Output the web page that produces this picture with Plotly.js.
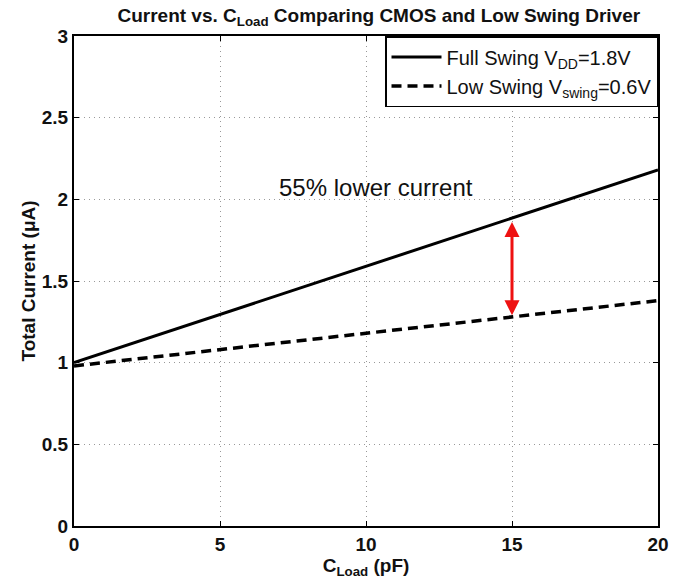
<!DOCTYPE html>
<html>
<head>
<meta charset="utf-8">
<script src="https://cdn.plot.ly/plotly-3.0.1.min.js"></script>
<style>body{margin:0;background:#fff}#chart{width:685px;height:581px}</style>
</head>
<body>
<div id="chart"></div>
<script>
const cLoad = [0, 5, 10, 15, 20];
const fullSwing = [1.00, 1.295, 1.59, 1.885, 2.18];
const lowSwing = [0.98, 1.08, 1.18, 1.28, 1.38];
const arrowX = 15;
const arrowTop = 1.87;
const arrowBottom = 1.29;
const noteX = 10.35;
const noteY = 2.07;

const traces = [
  {x: cLoad, y: fullSwing, mode: 'lines', name: 'Full Swing V<sub>DD</sub>=1.8V',
   line: {color: '#000', width: 3}},
  {x: cLoad, y: lowSwing, mode: 'lines', name: 'Low Swing V<sub>swing</sub>=0.6V',
   line: {color: '#000', width: 3.5, dash: '10px,6px'}}
];

const axisCommon = {
  showline: true, linecolor: '#000', linewidth: 2, mirror: 'ticks',
  ticks: 'inside', ticklen: 5, tickcolor: '#000', tickwidth: 1,
  showgrid: true, gridcolor: '#999', griddash: '1px,4px', gridwidth: 1,
  zeroline: false,
  tickfont: {family: 'Liberation Sans, Arial, sans-serif', size: 19, color: '#111', weight: 'bold'}
};

const layout = {
  width: 685, height: 581,
  margin: {l: 74, r: 27, t: 36, b: 55},
  paper_bgcolor: '#fff', plot_bgcolor: '#fff',
  font: {family: 'Liberation Sans, Arial, sans-serif', color: '#111'},
  title: {text: 'Current vs. C<sub>Load</sub> Comparing CMOS and Low Swing Driver',
    font: {size: 19, weight: 'bold', color: '#111'}, x: 0.553, xanchor: 'center', y: 0.985, yanchor: 'top'},
  xaxis: Object.assign({}, axisCommon, {range: [0, 20], tickvals: [0, 5, 10, 15, 20],
    title: {text: 'C<sub>Load</sub> (pF)', font: {size: 19, weight: 'bold', color: '#111'}, standoff: 4}}),
  yaxis: Object.assign({}, axisCommon, {range: [0, 3], tickvals: [0, 0.5, 1, 1.5, 2, 2.5, 3],
    title: {text: 'Total Current (μA)', font: {size: 19, weight: 'bold', color: '#111'}, standoff: 1}}),
  legend: {x: 1, xanchor: 'right', y: 1, yanchor: 'top', bgcolor: '#fff',
    bordercolor: '#000', borderwidth: 1.5, itemwidth: 50,
    font: {size: 20, color: '#111'}, tracegroupgap: 2},
  showlegend: true,
  annotations: [
    {x: arrowX, y: arrowBottom, ax: arrowX, ay: arrowTop, xref: 'x', yref: 'y', axref: 'x', ayref: 'y',
     text: '', showarrow: true, arrowhead: 2, startarrowhead: 2, arrowside: 'end+start',
     arrowcolor: '#ee1111', arrowwidth: 3, arrowsize: 1, startarrowsize: 1},
    {x: noteX, y: noteY, xref: 'x', yref: 'y', text: '55% lower current', showarrow: false,
     font: {size: 24, color: '#111'}}
  ]
};

Plotly.newPlot('chart', traces, layout, {displayModeBar: false});
</script>
</body>
</html>
